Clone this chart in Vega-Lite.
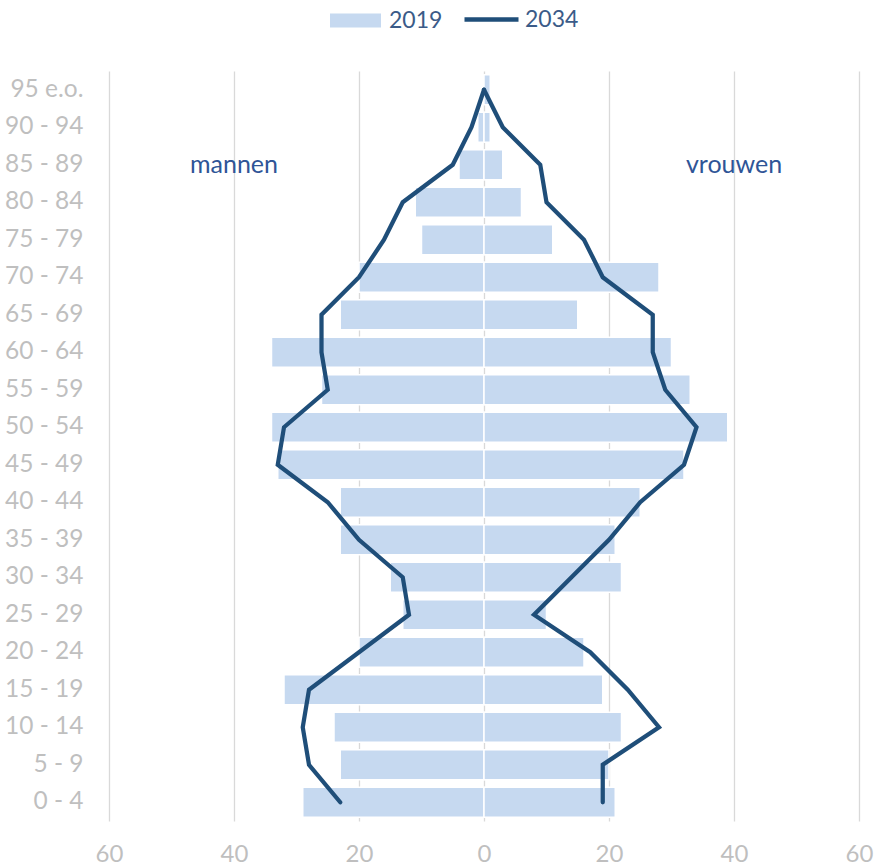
{
  "$schema": "https://vega.github.io/schema/vega-lite/v6.json",
  "autosize": {"type": "none"},
  "width": 750,
  "height": 750,
  "padding": {"left": 109, "top": 71, "right": 17, "bottom": 46},
  "background": "white",
  "config": {
    "view": {"stroke": null},
    "font": "Lato"
  },
  "data": {
    "values": [
      {"age": "0 - 4", "start": 0, "sex": "mannen", "v2019": -29, "v2034": -23},
      {"age": "5 - 9", "start": 5, "sex": "mannen", "v2019": -23, "v2034": -28},
      {"age": "10 - 14", "start": 10, "sex": "mannen", "v2019": -24, "v2034": -29},
      {"age": "15 - 19", "start": 15, "sex": "mannen", "v2019": -32, "v2034": -28},
      {"age": "20 - 24", "start": 20, "sex": "mannen", "v2019": -20, "v2034": -20},
      {"age": "25 - 29", "start": 25, "sex": "mannen", "v2019": -13, "v2034": -12},
      {"age": "30 - 34", "start": 30, "sex": "mannen", "v2019": -15, "v2034": -13},
      {"age": "35 - 39", "start": 35, "sex": "mannen", "v2019": -23, "v2034": -20},
      {"age": "40 - 44", "start": 40, "sex": "mannen", "v2019": -23, "v2034": -25},
      {"age": "45 - 49", "start": 45, "sex": "mannen", "v2019": -33, "v2034": -33},
      {"age": "50 - 54", "start": 50, "sex": "mannen", "v2019": -34, "v2034": -32},
      {"age": "55 - 59", "start": 55, "sex": "mannen", "v2019": -26, "v2034": -25},
      {"age": "60 - 64", "start": 60, "sex": "mannen", "v2019": -34, "v2034": -26},
      {"age": "65 - 69", "start": 65, "sex": "mannen", "v2019": -23, "v2034": -26},
      {"age": "70 - 74", "start": 70, "sex": "mannen", "v2019": -20, "v2034": -20},
      {"age": "75 - 79", "start": 75, "sex": "mannen", "v2019": -10, "v2034": -16},
      {"age": "80 - 84", "start": 80, "sex": "mannen", "v2019": -11, "v2034": -13},
      {"age": "85 - 89", "start": 85, "sex": "mannen", "v2019": -4, "v2034": -5},
      {"age": "90 - 94", "start": 90, "sex": "mannen", "v2019": -1, "v2034": -2},
      {"age": "95 e.o.", "start": 95, "sex": "mannen", "v2019": 0, "v2034": 0},
      {"age": "0 - 4", "start": 0, "sex": "vrouwen", "v2019": 21, "v2034": 19},
      {"age": "5 - 9", "start": 5, "sex": "vrouwen", "v2019": 20, "v2034": 19},
      {"age": "10 - 14", "start": 10, "sex": "vrouwen", "v2019": 22, "v2034": 28},
      {"age": "15 - 19", "start": 15, "sex": "vrouwen", "v2019": 19, "v2034": 23},
      {"age": "20 - 24", "start": 20, "sex": "vrouwen", "v2019": 16, "v2034": 17},
      {"age": "25 - 29", "start": 25, "sex": "vrouwen", "v2019": 10, "v2034": 8},
      {"age": "30 - 34", "start": 30, "sex": "vrouwen", "v2019": 22, "v2034": 14},
      {"age": "35 - 39", "start": 35, "sex": "vrouwen", "v2019": 21, "v2034": 20},
      {"age": "40 - 44", "start": 40, "sex": "vrouwen", "v2019": 25, "v2034": 25},
      {"age": "45 - 49", "start": 45, "sex": "vrouwen", "v2019": 32, "v2034": 32},
      {"age": "50 - 54", "start": 50, "sex": "vrouwen", "v2019": 39, "v2034": 34},
      {"age": "55 - 59", "start": 55, "sex": "vrouwen", "v2019": 33, "v2034": 29},
      {"age": "60 - 64", "start": 60, "sex": "vrouwen", "v2019": 30, "v2034": 27},
      {"age": "65 - 69", "start": 65, "sex": "vrouwen", "v2019": 15, "v2034": 27},
      {"age": "70 - 74", "start": 70, "sex": "vrouwen", "v2019": 28, "v2034": 19},
      {"age": "75 - 79", "start": 75, "sex": "vrouwen", "v2019": 11, "v2034": 16},
      {"age": "80 - 84", "start": 80, "sex": "vrouwen", "v2019": 6, "v2034": 10},
      {"age": "85 - 89", "start": 85, "sex": "vrouwen", "v2019": 3, "v2034": 9},
      {"age": "90 - 94", "start": 90, "sex": "vrouwen", "v2019": 1, "v2034": 3},
      {"age": "95 e.o.", "start": 95, "sex": "vrouwen", "v2019": 1, "v2034": 0}
    ]
  },
  "encoding": {
    "y": {
      "field": "age",
      "type": "nominal",
      "scale": {
        "domain": ["95 e.o.", "90 - 94", "85 - 89", "80 - 84", "75 - 79", "70 - 74", "65 - 69", "60 - 64", "55 - 59", "50 - 54", "45 - 49", "40 - 44", "35 - 39", "30 - 34", "25 - 29", "20 - 24", "15 - 19", "10 - 14", "5 - 9", "0 - 4"],
        "paddingInner": 0.2,
        "paddingOuter": 0.1
      },
      "axis": {
        "title": null,
        "domain": false,
        "ticks": false,
        "grid": false,
        "labelPadding": 26,
        "labelFontSize": 24.5,
        "labelColor": "#BFBFBF",
        "labelFont": "Lato"
      }
    }
  },
  "layer": [
    {
      "mark": {"type": "bar", "stroke": "white", "strokeWidth": 1.5},
      "encoding": {
        "x": {
          "field": "v2019",
          "type": "quantitative",
          "scale": {"domain": [-60, 60], "nice": false},
          "axis": {
            "title": null,
            "values": [-60, -40, -20, 0, 20, 40, 60],
            "labelExpr": "abs(datum.value)",
            "labelFlush": false,
            "domain": false,
            "ticks": false,
            "grid": true,
            "gridColor": "#D9D9D9",
            "gridWidth": 1.3,
            "labelPadding": 21,
            "labelFontSize": 24,
            "labelColor": "#BFBFBF",
            "labelFont": "Lato"
          }
        },
        "color": {
          "datum": "2019",
          "type": "nominal",
          "scale": {"domain": ["2019"], "range": ["#C6D9F0"]},
          "legend": {
            "title": null,
            "orient": "none",
            "direction": "horizontal",
            "legendX": 221,
            "legendY": -76,
            "padding": 0,
            "symbolType": "M-1,-0.27H1V0.27H-1Z",
            "symbolSize": 2601,
            "symbolStrokeWidth": 0,
            "symbolFillColor": "#C6D9F0",
            "labelFontSize": 23,
            "labelColor": "#3B5B88",
            "labelFont": "Lato",
            "labelOffset": 8
          }
        }
      }
    },
    {
      "mark": {"type": "line", "strokeWidth": 4.25, "strokeJoin": "miter", "strokeCap": "round"},
      "encoding": {
        "x": {"field": "v2034", "type": "quantitative"},
        "detail": {"field": "sex"},
        "order": {"field": "start", "type": "quantitative"},
        "stroke": {
          "datum": "2034",
          "type": "nominal",
          "scale": {"domain": ["2034"], "range": ["#1F4E79"]},
          "legend": {
            "title": null,
            "orient": "none",
            "direction": "horizontal",
            "legendX": 353,
            "legendY": -81,
            "padding": 0,
            "symbolType": "stroke",
            "symbolSize": 2916,
            "symbolStrokeWidth": 4.5,
            "labelFontSize": 23,
            "labelColor": "#3B5B88",
            "labelFont": "Lato",
            "labelOffset": 4
          }
        }
      }
    },
    {
      "data": {"values": [{}]},
      "mark": {"type": "text", "fontSize": 25, "font": "Lato", "color": "#2F5597", "align": "center", "baseline": "middle"},
      "encoding": {
        "x": {"datum": -40, "type": "quantitative"},
        "y": {"datum": "85 - 89", "type": "nominal"},
        "text": {"value": "mannen"}
      }
    },
    {
      "data": {"values": [{}]},
      "mark": {"type": "text", "fontSize": 25, "font": "Lato", "color": "#2F5597", "align": "center", "baseline": "middle"},
      "encoding": {
        "x": {"datum": 40, "type": "quantitative"},
        "y": {"datum": "85 - 89", "type": "nominal"},
        "text": {"value": "vrouwen"}
      }
    }
  ]
}
